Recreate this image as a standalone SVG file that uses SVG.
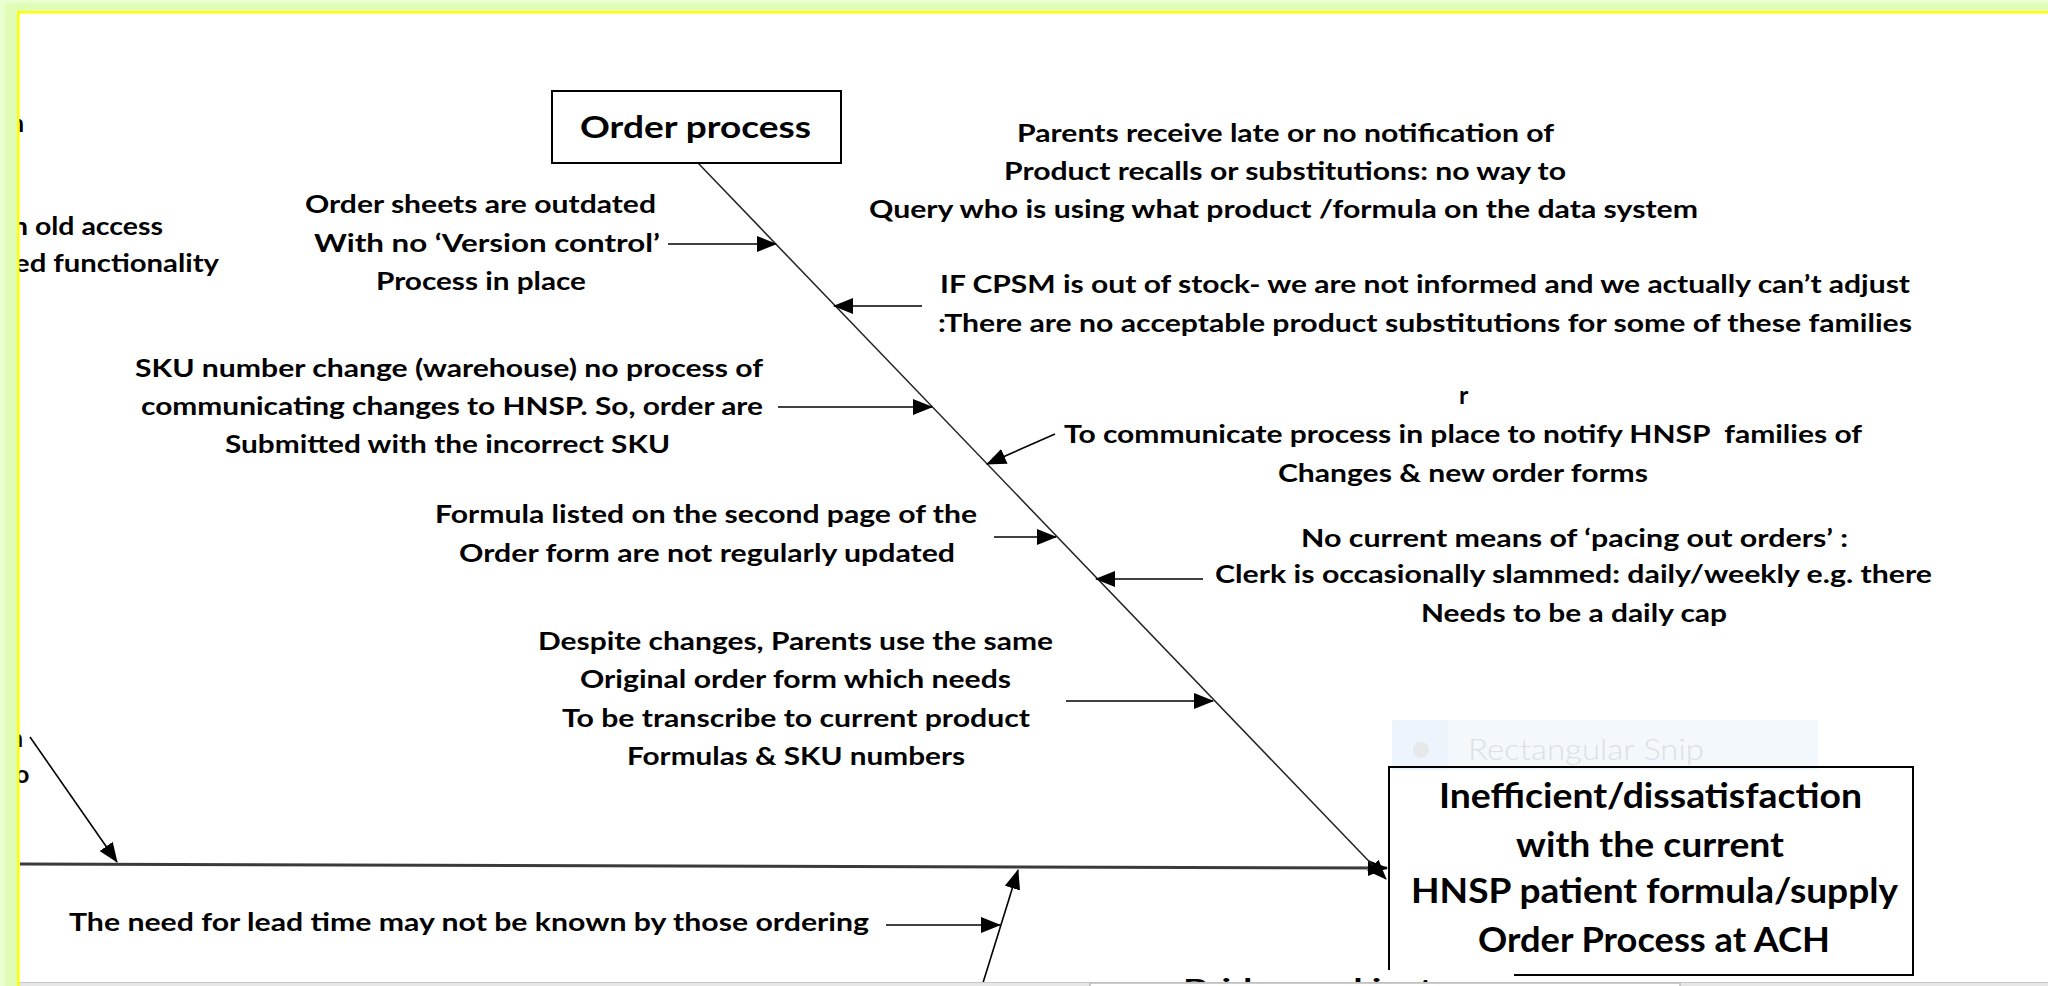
<svg xmlns="http://www.w3.org/2000/svg" width="2048" height="986" viewBox="0 0 2048 986">
<defs>
<style>
.t{font-family:Lato,"Liberation Sans",sans-serif;font-weight:700;font-size:25px;fill:#000}
.op{font-size:31px}
.big{font-size:35px}
.ar{stroke:#000;stroke-width:1.6;fill:none;marker-end:url(#ah)}
.box{fill:none;stroke:#000;stroke-width:2}
</style>
<marker id="ah" viewBox="0 0 20 16" refX="19" refY="8" markerWidth="20" markerHeight="16" markerUnits="userSpaceOnUse" orient="auto">
<path d="M0,0 L20,8 L0,16 z" fill="#000"/>
</marker>
</defs>
<rect x="0" y="0" width="2048" height="986" fill="#ffffff"/>

<g id="snip-overlay">
<rect x="1392" y="720" width="426" height="50" fill="#f3f8fd"/>
<rect x="1392" y="720" width="56" height="50" fill="#eef4fb"/>
<circle cx="1421" cy="750" r="8" fill="#e6e8ea"/>
<text x="1468" y="760" textLength="236" lengthAdjust="spacingAndGlyphs" style="font-family:Lato,'Liberation Sans',sans-serif;font-weight:300;font-size:30px;fill:#dde0e3">Rectangular Snip</text>
</g>

<g id="connectors">
<line x1="20" y1="864" x2="1387" y2="868" stroke="#3a3a3a" stroke-width="3" marker-end="url(#ah)"/>
<line x1="698" y1="163" x2="1386" y2="879" stroke="#222" stroke-width="1.5" marker-end="url(#ah)"/>
<line class="ar" x1="30" y1="737" x2="117" y2="862"/>
<line class="ar" x1="982" y1="986" x2="1018" y2="870"/>
<line class="ar" x1="886" y1="925" x2="1000" y2="925"/>
<line class="ar" x1="668" y1="244" x2="776" y2="244"/>
<line class="ar" x1="922" y1="306" x2="834" y2="306"/>
<line class="ar" x1="778" y1="407" x2="932" y2="407"/>
<line class="ar" x1="1055" y1="434" x2="987" y2="464"/>
<line class="ar" x1="994" y1="537" x2="1056" y2="537"/>
<line class="ar" x1="1203" y1="579" x2="1096" y2="579"/>
<line class="ar" x1="1066" y1="701" x2="1213" y2="701"/>
</g>

<g id="order-process">
<rect class="box" x="552" y="91" width="289" height="72"/>
<text class="t op" x="580" y="138" textLength="231" lengthAdjust="spacingAndGlyphs">Order process</text>
</g>

<g id="effect">
<path class="box" d="M1389,970 L1389,767 L1913,767 L1913,975 L1514,975"/>
<text class="t big" x="1439" y="808" textLength="423" lengthAdjust="spacingAndGlyphs">Inefficient/dissatisfaction</text>
<text class="t big" x="1516" y="857" textLength="268" lengthAdjust="spacingAndGlyphs">with the current</text>
<text class="t big" x="1411" y="903" textLength="487" lengthAdjust="spacingAndGlyphs">HNSP patient formula/supply</text>
<text class="t big" x="1478" y="952" textLength="352" lengthAdjust="spacingAndGlyphs">Order Process at ACH</text>
</g>

<g id="cause-order-sheets">
<text class="t" x="305" y="213" textLength="351" lengthAdjust="spacingAndGlyphs">Order sheets are outdated</text>
<text class="t" x="314" y="252" textLength="346" lengthAdjust="spacingAndGlyphs">With no ‘Version control’</text>
<text class="t" x="376" y="290" textLength="210" lengthAdjust="spacingAndGlyphs">Process in place</text>
</g>

<g id="cause-sku">
<text class="t" x="135" y="377" textLength="628" lengthAdjust="spacingAndGlyphs">SKU number change (warehouse) no process of</text>
<text class="t" x="141" y="415" textLength="622" lengthAdjust="spacingAndGlyphs">communicating changes to HNSP. So, order are</text>
<text class="t" x="225" y="453" textLength="445" lengthAdjust="spacingAndGlyphs">Submitted with the incorrect SKU</text>
</g>

<g id="cause-formula">
<text class="t" x="435" y="523" textLength="542" lengthAdjust="spacingAndGlyphs">Formula listed on the second page of the</text>
<text class="t" x="459" y="562" textLength="496" lengthAdjust="spacingAndGlyphs">Order form are not regularly updated</text>
</g>

<g id="cause-despite">
<text class="t" x="538" y="650" textLength="515" lengthAdjust="spacingAndGlyphs">Despite changes, Parents use the same</text>
<text class="t" x="580" y="688" textLength="431" lengthAdjust="spacingAndGlyphs">Original order form which needs</text>
<text class="t" x="562" y="727" textLength="468" lengthAdjust="spacingAndGlyphs">To be transcribe to current product</text>
<text class="t" x="627" y="765" textLength="338" lengthAdjust="spacingAndGlyphs">Formulas &amp; SKU numbers</text>
</g>

<g id="cause-parents">
<text class="t" x="1017" y="142" textLength="537" lengthAdjust="spacingAndGlyphs">Parents receive late or no notification of</text>
<text class="t" x="1004" y="180" textLength="562" lengthAdjust="spacingAndGlyphs">Product recalls or substitutions: no way to</text>
<text class="t" x="869" y="218" textLength="829" lengthAdjust="spacingAndGlyphs">Query who is using what product /formula on the data system</text>
</g>

<g id="cause-cpsm">
<text class="t" x="940" y="293" textLength="970" lengthAdjust="spacingAndGlyphs">IF CPSM is out of stock- we are not informed and we actually can’t adjust</text>
<text class="t" x="938" y="332" textLength="974" lengthAdjust="spacingAndGlyphs">:There are no acceptable product substitutions for some of these families</text>
</g>

<g id="cause-communicate">
<text class="t" x="1459" y="404">r</text>
<text class="t" x="1064" y="443" textLength="798" lengthAdjust="spacingAndGlyphs" xml:space="preserve">To communicate process in place to notify HNSP  families of</text>
<text class="t" x="1278" y="482" textLength="370" lengthAdjust="spacingAndGlyphs">Changes &amp; new order forms</text>
</g>

<g id="cause-pacing">
<text class="t" x="1301" y="547" textLength="547" lengthAdjust="spacingAndGlyphs">No current means of ‘pacing out orders’ :</text>
<text class="t" x="1215" y="583" textLength="717" lengthAdjust="spacingAndGlyphs">Clerk is occasionally slammed: daily/weekly e.g. there</text>
<text class="t" x="1421" y="622" textLength="306" lengthAdjust="spacingAndGlyphs">Needs to be a daily cap</text>
</g>

<g id="cause-lead-time">
<text class="t" x="69" y="931" textLength="800" lengthAdjust="spacingAndGlyphs">The need for lead time may not be known by those ordering</text>
</g>

<g id="cut-off-left">
<text class="t" x="10" y="132">n</text>
<text class="t" x="12" y="235" textLength="151" lengthAdjust="spacingAndGlyphs">n old access</text>
<text class="t" x="14" y="272" textLength="205" lengthAdjust="spacingAndGlyphs">ed functionality</text>
<text class="t" x="9" y="747">n</text>
<text class="t" x="15" y="783">o</text>
</g>

<g id="cut-off-bottom">
<text class="t" x="1183" y="997" textLength="250" lengthAdjust="spacingAndGlyphs">Bridge and just</text>
<rect x="0" y="982" width="2048" height="4" fill="#e6e6e6"/>
<line x1="0" y1="982.5" x2="2048" y2="982.5" stroke="#c9c9c9" stroke-width="1"/>
<rect x="1090" y="983" width="590" height="6" fill="#ffffff" stroke="#bdbdbd" stroke-width="1.5"/>
</g>

<g id="frame">
<rect x="0" y="0" width="2048" height="11" fill="#e0fdb8"/>
<rect x="0" y="0" width="17" height="986" fill="#e0fdb8"/>
<rect x="0" y="0" width="2048" height="3" fill="#eaffd0"/>
<rect x="0" y="0" width="5" height="986" fill="#eaffd0"/>
<rect x="17" y="11" width="2031" height="2.5" fill="#ffff00"/>
<rect x="17" y="11" width="2.5" height="975" fill="#ffff00"/>
</g>
</svg>
